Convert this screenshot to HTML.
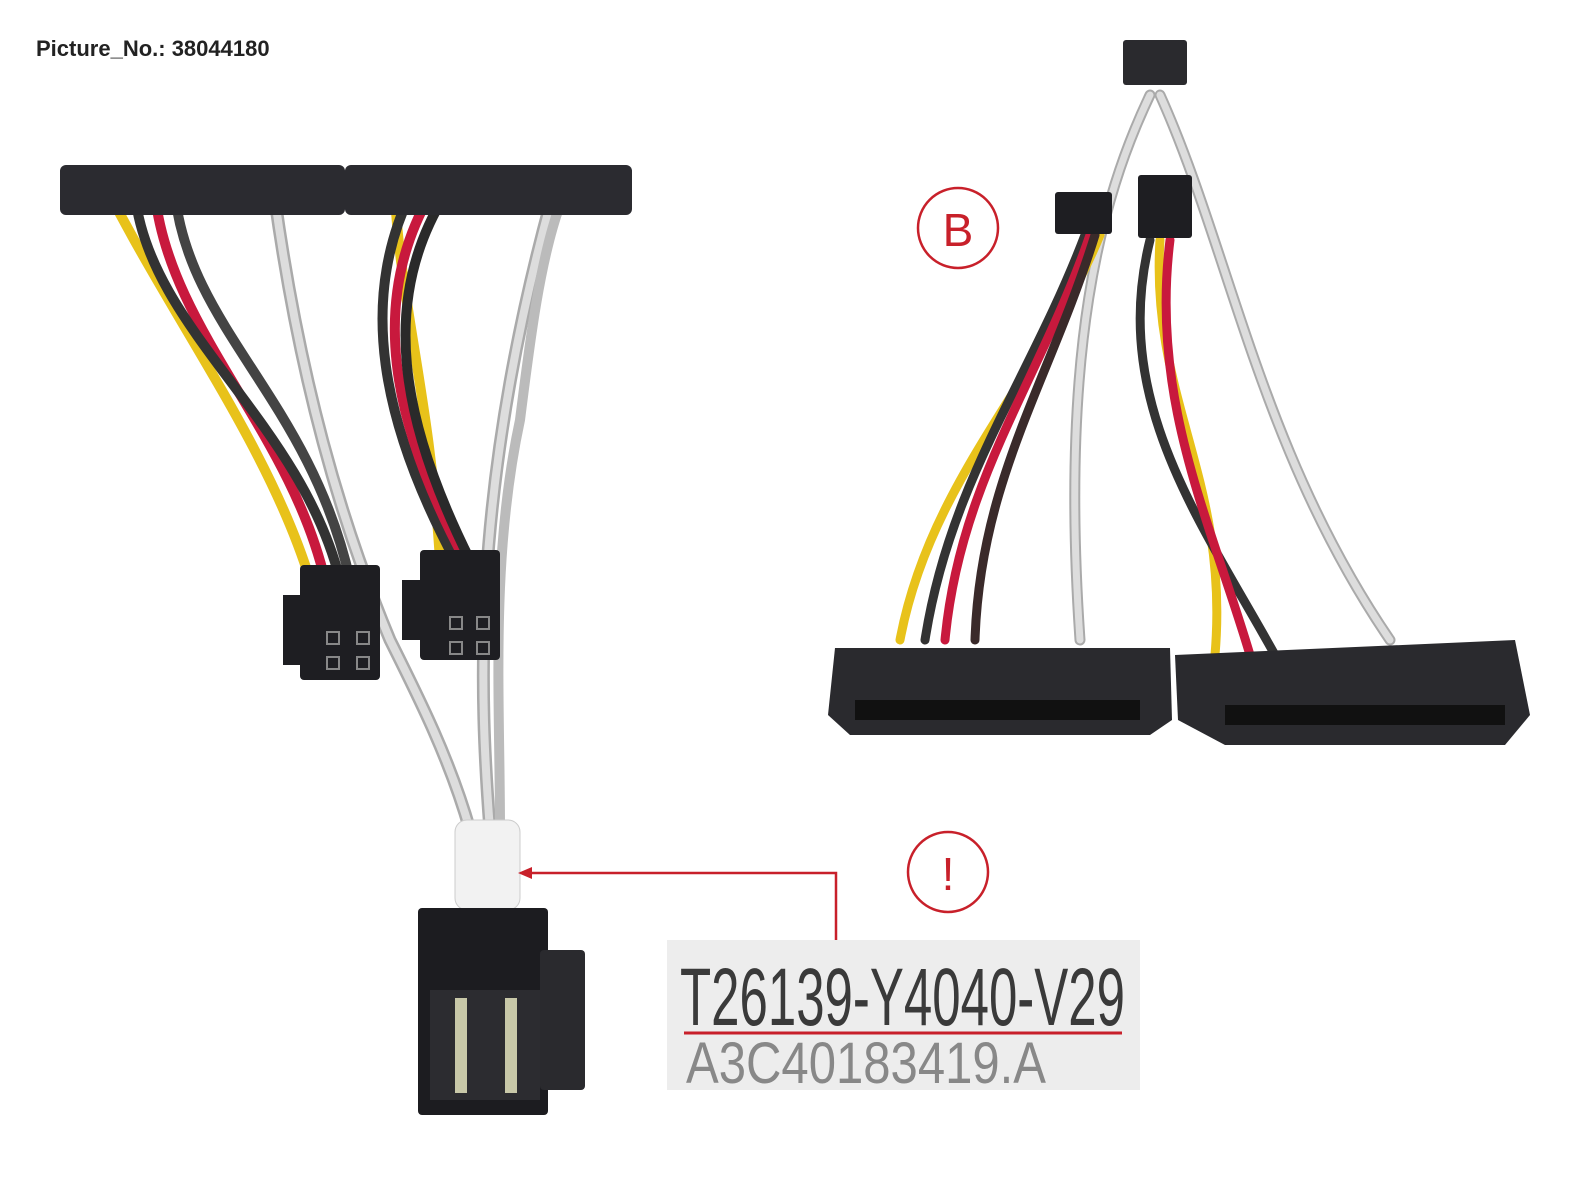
<!DOCTYPE html>
<html><head><meta charset="utf-8"><style>
html,body{margin:0;padding:0;background:#fff;}
svg{display:block;}
</style></head><body>
<svg width="1583" height="1187" viewBox="0 0 1583 1187" xmlns="http://www.w3.org/2000/svg">
<rect width="1583" height="1187" fill="#fff"/>
<text x="36" y="56" font-family="Liberation Sans, sans-serif" font-size="22" font-weight="bold" fill="#222">Picture_No.: 38044180</text>

<!-- LEFT ASSEMBLY wires -->
<g fill="none" stroke-linecap="round">
 <path d="M470,830 C450,760 420,700 390,640 C340,520 300,380 275,200" stroke="#aaa" stroke-width="13"/>
 <path d="M470,830 C450,760 420,700 390,640 C340,520 300,380 275,200" stroke="#ddd" stroke-width="8"/>
 <path d="M490,830 C480,700 470,500 550,205" stroke="#aaa" stroke-width="13"/>
 <path d="M490,830 C480,700 470,500 550,205" stroke="#ddd" stroke-width="8"/>
 <path d="M500,830 C500,700 490,560 520,420 C530,340 540,260 560,205" stroke="#bbb" stroke-width="10"/>
 <path d="M310,580 C270,450 180,330 110,195" stroke="#e8c21a" stroke-width="10"/>
 <path d="M325,580 C290,430 170,330 155,195" stroke="#c8193d" stroke-width="10"/>
 <path d="M340,580 C300,420 150,330 135,195" stroke="#333" stroke-width="10"/>
 <path d="M350,580 C310,400 190,330 175,195" stroke="#444" stroke-width="10"/>
 <path d="M440,560 C430,400 400,300 395,195" stroke="#e8c21a" stroke-width="10"/>
 <path d="M455,560 C380,420 360,300 410,195" stroke="#333" stroke-width="10"/>
 <path d="M465,560 C390,420 370,300 430,195" stroke="#c8193d" stroke-width="10"/>
 <path d="M470,560 C400,420 380,300 445,195" stroke="#2a2a2a" stroke-width="10"/>
</g>
<rect x="60" y="165" width="285" height="50" rx="6" fill="#2b2b30"/>
<rect x="345" y="165" width="287" height="50" rx="6" fill="#2b2b30"/>
<!-- small 4-pin connectors -->
<g fill="#1e1e22">
 <rect x="300" y="565" width="80" height="115" rx="4"/>
 <rect x="283" y="595" width="22" height="70"/>
 <rect x="420" y="550" width="80" height="110" rx="4"/>
 <rect x="402" y="580" width="22" height="60"/>
</g>
<g fill="none" stroke="#888" stroke-width="2">
 <rect x="327" y="632" width="12" height="12"/><rect x="357" y="632" width="12" height="12"/>
 <rect x="327" y="657" width="12" height="12"/><rect x="357" y="657" width="12" height="12"/>
 <rect x="450" y="617" width="12" height="12"/><rect x="477" y="617" width="12" height="12"/>
 <rect x="450" y="642" width="12" height="12"/><rect x="477" y="642" width="12" height="12"/>
</g>
<!-- SAS connector -->
<rect x="455" y="820" width="65" height="90" rx="12" fill="#f2f2f2" stroke="#ccc"/>
<rect x="418" y="908" width="130" height="207" rx="4" fill="#1c1c20"/>
<rect x="540" y="950" width="45" height="140" rx="4" fill="#2a2a2e"/>
<rect x="430" y="990" width="110" height="110" fill="#2c2c30"/>
<rect x="455" y="998" width="12" height="95" fill="#c8c8a8"/>
<rect x="505" y="998" width="12" height="95" fill="#c8c8a8"/>

<!-- RIGHT ASSEMBLY wires -->
<g fill="none" stroke-linecap="round">
 <path d="M1150,95 C1100,200 1060,350 1080,640" stroke="#aaa" stroke-width="11"/>
 <path d="M1150,95 C1100,200 1060,350 1080,640" stroke="#ddd" stroke-width="7"/>
 <path d="M1160,95 C1230,250 1260,450 1390,640" stroke="#aaa" stroke-width="11"/>
 <path d="M1160,95 C1230,250 1260,450 1390,640" stroke="#ddd" stroke-width="7"/>
 <path d="M1100,235 C1040,380 930,480 900,640" stroke="#e8c21a" stroke-width="9"/>
 <path d="M1085,235 C1030,380 950,480 925,640" stroke="#333" stroke-width="9"/>
 <path d="M1090,235 C1040,380 960,480 945,640" stroke="#c8193d" stroke-width="9"/>
 <path d="M1095,235 C1050,380 980,480 975,640" stroke="#3a2a2a" stroke-width="9"/>
 <path d="M1160,240 C1150,400 1230,480 1215,655" stroke="#e8c21a" stroke-width="9"/>
 <path d="M1150,240 C1110,400 1200,520 1275,655" stroke="#333" stroke-width="9"/>
 <path d="M1170,240 C1150,400 1210,520 1250,655" stroke="#c8193d" stroke-width="9"/>
</g>
<rect x="1123" y="40" width="64" height="45" rx="3" fill="#2a2a2e"/>
<rect x="1055" y="192" width="57" height="42" rx="3" fill="#1e1e22"/>
<rect x="1138" y="175" width="54" height="63" rx="3" fill="#1e1e22"/>
<path d="M835,648 L1170,648 L1172,720 L1150,735 L850,735 L828,715 Z" fill="#2a2a2e"/>
<rect x="855" y="700" width="285" height="20" fill="#111"/>
<path d="M1175,655 L1515,640 L1530,715 L1505,745 L1225,745 L1178,720 Z" fill="#2a2a2e"/>
<rect x="1225" y="705" width="280" height="20" fill="#111"/>

<!-- callouts -->
<g fill="none" stroke="#c8202a" stroke-width="2.5">
 <circle cx="958" cy="228" r="40"/>
 <circle cx="948" cy="872" r="40"/>
 <path d="M836,940 L836,873 L530,873"/>
</g>
<path d="M518,873 L532,867 L532,879 Z" fill="#c8202a"/>
<text x="958" y="246" text-anchor="middle" font-family="Liberation Sans, sans-serif" font-size="46" fill="#c8202a">B</text>
<text x="948" y="890" text-anchor="middle" font-family="Liberation Sans, sans-serif" font-size="46" fill="#c8202a">!</text>

<!-- label -->
<rect x="667" y="940" width="473" height="150" fill="#ededed"/>
<text x="680" y="1025" font-family="Liberation Sans, sans-serif" font-size="82" fill="#3a3a3a" textLength="445" lengthAdjust="spacingAndGlyphs">T26139-Y4040-V29</text>
<line x1="684" y1="1033" x2="1122" y2="1033" stroke="#c8202a" stroke-width="3"/>
<text x="686" y="1083" font-family="Liberation Sans, sans-serif" font-size="58" fill="#888" textLength="360" lengthAdjust="spacingAndGlyphs">A3C40183419.A</text>
</svg>
</body></html>
